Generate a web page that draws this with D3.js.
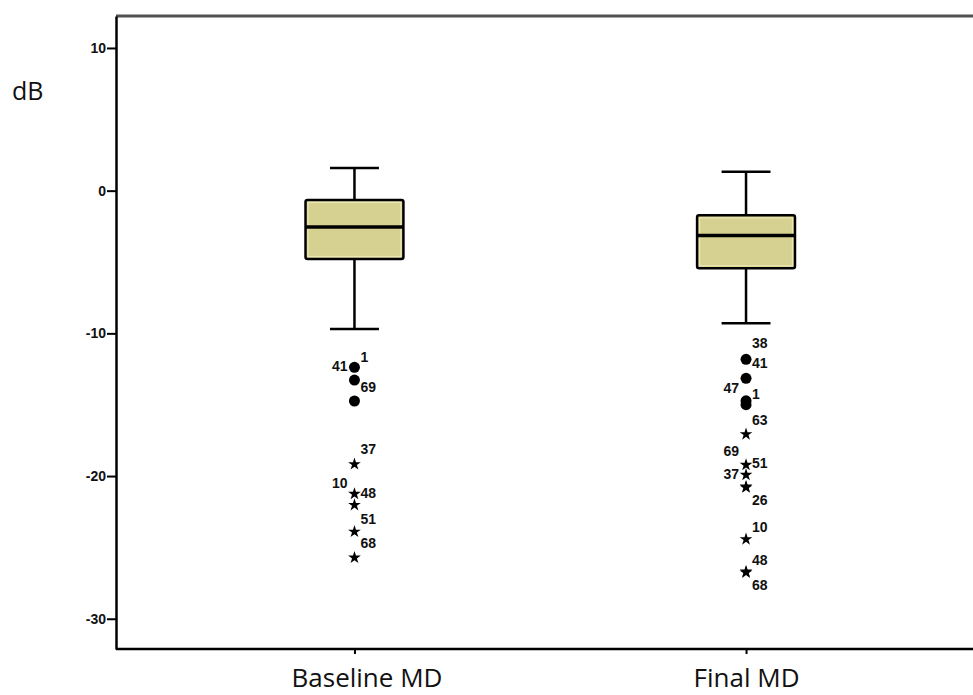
<!DOCTYPE html>
<html>
<head>
<meta charset="utf-8">
<script src="https://cdn.jsdelivr.net/npm/d3@7"></script>
<style>
    body { margin: 0; background: #fff; }
    svg { display: block; }
</style>
</head>
<body>
<script>
    // Data
    let groups = ["Baseline MD", "Final MD"];
    // [lower whisker, Q1, median, Q3, upper whisker]
    let baselineBox = [-9.69, -4.79, -2.54, -0.65, 1.59];
    let finalBox = [-9.29, -5.44, -3.15, -1.73, 1.33];

    // outliers: circle = out, star = extreme
    let baselineCircles = [-12.38, -13.27, -14.74];
    let baselineStars = [-19.17, -21.25, -22.03, -23.9, -25.72];
    let finalCircles = [-11.82, -13.15, -14.73, -15.0];
    let finalStars = [-17.07, -19.22, -19.92, -20.74, -20.8, -24.43, -26.7, -26.76];

    // case labels: [text, value, side]
    let baselineLabels = [
        ["1", -11.68, "r"], ["41", -12.31, "l"], ["69", -13.76, "r"],
        ["37", -18.10, "r"], ["10", -20.48, "l"], ["48", -21.18, "r"],
        ["51", -23.0, "r"], ["68", -24.68, "r"]
    ];
    let finalLabels = [
        ["38", -10.67, "r"], ["41", -12.07, "r"], ["47", -13.82, "l"],
        ["1", -14.25, "r"], ["63", -16.07, "r"], ["69", -18.24, "l"],
        ["51", -19.06, "r"], ["37", -19.85, "l"], ["26", -21.67, "r"],
        ["10", -23.54, "r"], ["48", -25.88, "r"], ["68", -27.63, "r"]
    ];

    let yTicks = [10, 0, -10, -20, -30];

    let boxes = [baselineBox, finalBox];
    let circles = [baselineCircles, finalCircles];
    let stars = [baselineStars, finalStars];
    let labels = [baselineLabels, finalLabels];

    // Set up SVG
    let width = 973, height = 695;
    let svg = d3.select("body")
        .append("svg")
        .attr("width", width)
        .attr("height", height);

    // Scales
    let y = d3.scaleLinear().domain([-32.12, 12.24]).range([649, 16]);
    let x = d3.scalePoint().domain(groups).range([116, 984.5]).padding(0.609);
    let boxW = x.step() * 0.25;
    let fill = "#d6d191";

    // Top frame line
    svg.append("line")
        .attr("x1", x.range()[0]).attr("x2", width)
        .attr("y1", y.range()[1]).attr("y2", y.range()[1])
        .attr("stroke", "#505050")
        .attr("stroke-width", 3);

    // Y axis
    let yAxis = svg.append("g")
        .attr("transform", `translate(${x.range()[0]},0)`)
        .call(d3.axisLeft(y).tickValues(yTicks).tickSize(9).tickSizeOuter(0).tickFormat((d) => String(d)));
    yAxis.select(".domain").attr("stroke-width", 2.5);
    yAxis.selectAll(".tick line").attr("stroke-width", 2);
    yAxis.selectAll(".tick text")
        .attr("font-family", "Liberation Sans, Arial, sans-serif")
        .attr("font-size", 14)
        .attr("font-weight", "bold")
        .attr("fill", "#111")
        .attr("x", -10);

    // X axis
    let xAxis = svg.append("g")
        .attr("transform", `translate(0,${y.range()[0]})`)
        .call(d3.axisBottom(x).tickSize(5).tickSizeOuter(0));
    xAxis.select(".domain").attr("stroke-width", 2.5).attr("d", `M${x.range()[0]},0H${width}`);
    xAxis.selectAll(".tick line").attr("stroke-width", 2);
    xAxis.selectAll(".tick text")
        .attr("font-family", "Open Sans, sans-serif")
        .attr("font-size", 26)
        .attr("fill", "#111")
        .attr("dx", (d, i) => i === 0 ? 12 : 0)
        .attr("y", 38)
        .attr("dy", 0);

    // dB label
    svg.append("text")
        .attr("x", 12)
        .attr("y", 100)
        .attr("font-family", "Open Sans, sans-serif")
        .attr("font-size", 25)
        .attr("fill", "#111")
        .text("dB");

    // Boxes
    let g = svg.selectAll("g.box")
        .data(groups)
        .enter()
        .append("g")
        .attr("class", "box");

    g.each(function (name, i) {
        let b = boxes[i];
        let cx = x(name);
        let gg = d3.select(this);

        // whiskers
        gg.append("line")
            .attr("x1", cx).attr("x2", cx)
            .attr("y1", y(b[4])).attr("y2", y(b[3]))
            .attr("stroke", "#000").attr("stroke-width", 2.5);
        gg.append("line")
            .attr("x1", cx).attr("x2", cx)
            .attr("y1", y(b[1])).attr("y2", y(b[0]))
            .attr("stroke", "#000").attr("stroke-width", 2.5);
        [b[0], b[4]].forEach((v) => {
            gg.append("line")
                .attr("x1", cx - boxW / 4).attr("x2", cx + boxW / 4)
                .attr("y1", y(v)).attr("y2", y(v))
                .attr("stroke", "#000").attr("stroke-width", 2.5);
        });

        // box
        gg.append("rect")
            .attr("x", cx - boxW / 2)
            .attr("y", y(b[3]))
            .attr("width", boxW)
            .attr("height", y(b[1]) - y(b[3]))
            .attr("rx", 2)
            .attr("fill", fill)
            .attr("stroke", "#000")
            .attr("stroke-width", 2.5);
        gg.append("rect")
            .attr("x", cx - boxW / 2 + 2.5)
            .attr("y", y(b[3]) + 2.5)
            .attr("width", boxW - 5)
            .attr("height", y(b[1]) - y(b[3]) - 5)
            .attr("fill", "none")
            .attr("stroke", "#ebe8b6")
            .attr("stroke-width", 1.2);

        // median
        gg.append("line")
            .attr("x1", cx - boxW / 2).attr("x2", cx + boxW / 2)
            .attr("y1", y(b[2])).attr("y2", y(b[2]))
            .attr("stroke", "#000").attr("stroke-width", 3.5);

        // outliers
        gg.selectAll("circle.out")
            .data(circles[i])
            .enter()
            .append("circle")
            .attr("class", "out")
            .attr("cx", cx)
            .attr("cy", (d) => y(d))
            .attr("r", 5.5)
            .attr("fill", "#000");

        gg.selectAll("path.ext")
            .data(stars[i])
            .enter()
            .append("path")
            .attr("class", "ext")
            .attr("transform", (d) => `translate(${cx},${y(d)})`)
            .attr("d", d3.symbol().type(d3.symbolStar).size(50))
            .attr("fill", "#000");

        gg.selectAll("text.lab")
            .data(labels[i])
            .enter()
            .append("text")
            .attr("class", "lab")
            .attr("x", (d) => d[2] === "r" ? cx + 6 : cx - 7)
            .attr("y", (d) => y(d[1]))
            .attr("dy", "0.36em")
            .attr("text-anchor", (d) => d[2] === "r" ? "start" : "end")
            .attr("font-family", "Liberation Sans, Arial, sans-serif")
            .attr("font-size", 14)
            .attr("font-weight", "bold")
            .attr("fill", "#111")
            .text((d) => d[0]);
    });
</script>
</body>
</html>
